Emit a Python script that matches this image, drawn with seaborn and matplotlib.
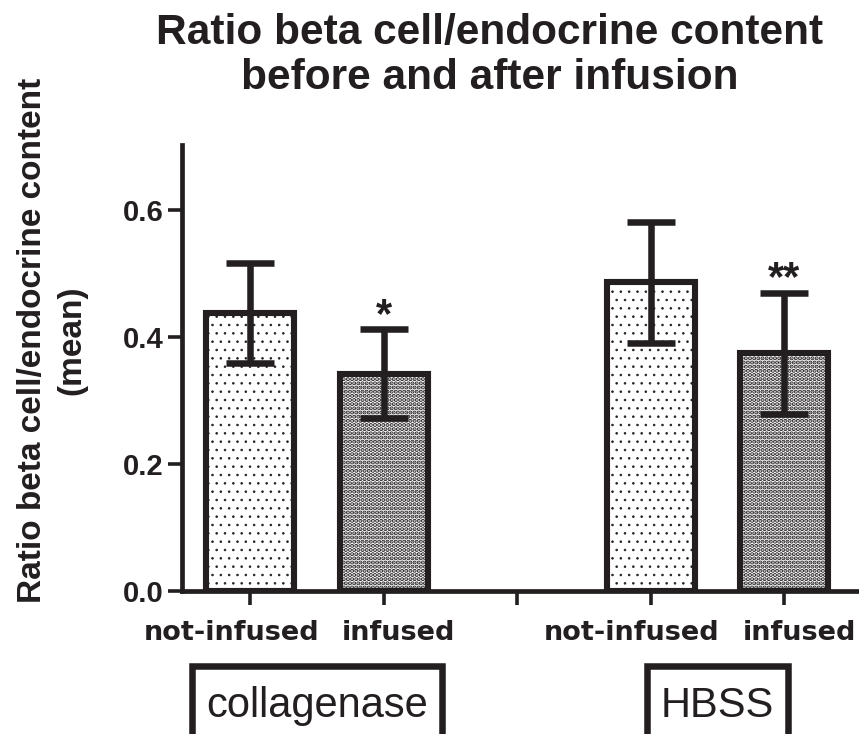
import numpy as np
import pandas as pd
import matplotlib
matplotlib.use("Agg")
import matplotlib.pyplot as plt
import matplotlib.transforms as mtransforms
import seaborn as sns
from matplotlib.patches import Rectangle

# Beta cell / endocrine content ratio (mean with error) per digestion group
groups = ["collagenase", "collagenase", "HBSS", "HBSS"]
conditions = ["not-infused", "infused", "not-infused", "infused"]
ratio_mean = [0.438, 0.342, 0.486, 0.374]
ratio_err = [0.079, 0.070, 0.095, 0.095]
significance = ["", "*", "", "**"]
tick_labels = ["not-infused", "infused", "", "not-infused", "infused"]
yticks = [0.0, 0.2, 0.4, 0.6]
group_names = ["collagenase", "HBSS"]

INK = "#231f20"
W, H = 859, 734

keys = [f"{g}|{c}" for g, c in zip(groups, conditions)]
order = [keys[0], keys[1], "gap", keys[2], keys[3]]
df = pd.DataFrame({"key": keys, "group": groups, "condition": conditions,
                   "mean": ratio_mean, "err": ratio_err})

sns.set_style("ticks")
plt.rcParams["font.family"] = ["Liberation Sans", "DejaVu Sans"]
plt.rcParams["hatch.color"] = INK
plt.rcParams["text.color"] = INK

fig = plt.figure(figsize=(W / 100, H / 100), dpi=100)
ax = fig.add_axes([182 / W, 143 / H, (W - 182) / W, 446 / H])

sns.barplot(data=df, x="key", y="mean", order=order, color="white",
            saturation=1, width=0.66, errorbar=None, edgecolor=INK,
            linewidth=4.4, ax=ax, zorder=2)

# hatch: sparse dots for not-infused, dense checker for infused
bars = sorted(ax.patches, key=lambda p: p.get_x())
for bar, cond in zip(bars, conditions):
    bar.set_facecolor("white")
    if cond == "not-infused":
        bar.set_hatch("..")
        lw = 0.6
    else:
        bar.set_hatch("....")
        lw = 2.1
    if hasattr(bar, "set_hatch_linewidth"):
        bar.set_hatch_linewidth(lw)

xpos = [order.index(k) for k in keys]
ax.errorbar(xpos, ratio_mean, yerr=ratio_err, fmt="none", ecolor=INK,
            elinewidth=4.7, capsize=17, capthick=4.7, zorder=5)

for x, m, e, s in zip(xpos, ratio_mean, ratio_err, significance):
    if s:
        ax.text(x, m + e + 0.004, s, ha="center", va="baseline",
                fontsize=30, fontweight="bold", color=INK)

ax.set_xlim(-0.51, 4.56)
ax.set_ylim(0, 0.702)
ax.set_yticks(yticks)
ax.set_yticklabels([f"{v:.1f}" for v in yticks])
ax.set_xticks(range(len(order)))
ax.set_xticklabels(tick_labels)
ax.set_xlabel("")
ax.set_ylabel("")
for sp in ["top", "right"]:
    ax.spines[sp].set_visible(False)
for sp in ["left", "bottom"]:
    ax.spines[sp].set_linewidth(3.4)
    ax.spines[sp].set_color(INK)
ax.tick_params(axis="both", length=10, width=2.6, color=INK, labelcolor=INK)
ax.tick_params(axis="y", pad=3)
ax.tick_params(axis="x", pad=11)
for lab in ax.get_yticklabels():
    lab.set_fontweight("bold")
    lab.set_fontsize(21)
# condition labels sit slightly apart from each other under their bars
for lab, text in zip(ax.get_xticklabels(), tick_labels):
    lab.set_family(["DejaVu Sans"])
    lab.set_fontweight("bold")
    lab.set_fontsize(19.5)
    dx = -0.19 if text == "not-infused" else 0.15
    lab.set_transform(lab.get_transform() +
                      mtransforms.ScaledTranslation(dx, 0, fig.dpi_scale_trans))

fig.text(490 / W, 1 - 13 / H,
         "Ratio beta cell/endocrine content\nbefore and after infusion",
         ha="center", va="top", fontsize=30.5, fontweight="bold",
         linespacing=1.15, color=INK)

fig.text(52 / W, 1 - 340 / H, "Ratio beta cell/endocrine content\n(mean)",
         rotation=90, ha="center", va="center", fontsize=24,
         fontweight="bold", multialignment="center", linespacing=1.35,
         color=INK)

# boxed group names under each pair of bars
group_centers = [(xpos[0] + xpos[1]) / 2, (xpos[2] + xpos[3]) / 2]
fig.canvas.draw()
renderer = fig.canvas.get_renderer()
for name, gc in zip(group_names, group_centers):
    px = ax.transData.transform((gc, 0))[0]
    t = fig.text(px / W, 17 / H, name, ha="center", va="baseline",
                 fontsize=30, color=INK)
    bb = t.get_window_extent(renderer)
    x0, x1 = bb.x0 - 14, bb.x1 + 14
    top = H - 666
    fig.patches.append(Rectangle((x0 / W, -30 / H), (x1 - x0) / W,
                                 (top + 30) / H, transform=fig.transFigure,
                                 fill=False, edgecolor=INK, linewidth=4.7,
                                 clip_on=False))

fig.savefig("out.png", dpi=100)
